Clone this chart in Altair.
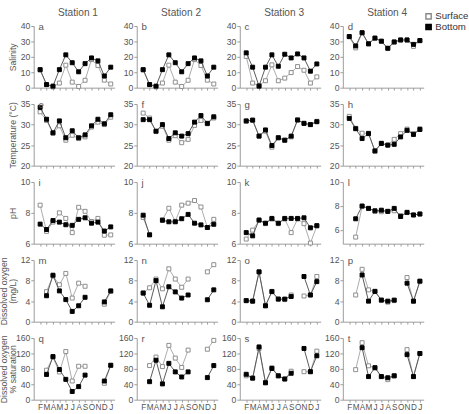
import altair as alt
import pandas as pd

months = ["F", "M", "A", "M", "J", "J", "A", "S", "O", "N", "D", "J"]
stations = ["Station 1", "Station 2", "Station 3", "Station 4"]

# Salinity
a_sur = [11.5, 2.0, 0.5, 3.0, 14.6, 3.6, 0.8, 4.8, 18.2, 14.4, 4.9, 2.4]
a_bot = [11.7, 2.0, 1.0, 11.7, 21.3, 16.2, 10.3, 15.6, 19.3, 17.4, 7.6, 13.3]
b_sur = [11.5, 2.0, 0.5, 3.0, 14.6, 3.6, 0.8, 4.8, 18.2, 14.4, 4.9, 2.4]
b_bot = [11.7, 2.0, 1.0, 11.7, 21.3, 16.2, 10.3, 15.6, 19.3, 17.4, 7.6, 13.3]
c_sur = [20.3, 3.0, 1.4, 4.5, 14.8, 4.5, 6.2, 9.8, 13.7, 11.3, 3.0, 7.0]
c_bot = [22.6, 13.3, 1.0, 13.3, 21.3, 13.9, 21.7, 19.3, 21.9, 19.3, 10.7, 15.4]
d_sur = [33.0, 25.8, 35.5, 28.3, 32.0, 30.0, 25.4, 29.5, 30.8, 30.8, 26.8, 30.4]
d_bot = [33.2, 27.1, 35.7, 28.5, 32.2, 30.2, 25.6, 29.7, 31.0, 31.0, 28.1, 30.6]
# Temperature
e_sur = [33.1, 31.0, 27.9, 29.7, 26.2, 27.4, 26.6, 27.0, 29.4, 30.6, 30.0, 31.8]
e_bot = [34.2, 31.3, 28.0, 30.9, 26.8, 28.5, 26.8, 27.5, 29.7, 31.3, 30.2, 32.4]
f_sur = [32.8, 31.6, 28.3, 29.6, 26.2, 27.3, 25.6, 26.4, 29.8, 31.0, 30.2, 31.6]
f_bot = [31.2, 31.2, 28.4, 30.0, 26.6, 28.0, 27.2, 27.8, 30.6, 32.2, 30.3, 31.9]
g_sur = [30.8, 31.0, 27.2, 28.4, 24.5, 26.8, 26.2, 27.0, 31.2, 30.3, 30.0, 30.8]
g_bot = [30.9, 31.1, 27.2, 28.7, 24.9, 26.8, 26.2, 27.2, 31.1, 30.3, 30.0, 30.7]
h_sur = [32.0, 29.1, 27.9, 27.9, 23.5, 25.5, 25.0, 26.4, 27.8, 28.9, 27.8, 29.0]
h_bot = [31.5, 29.0, 26.6, 27.8, 23.6, 25.4, 25.0, 25.2, 27.0, 28.6, 27.6, 28.8]
# pH
i_sur = [8.5, 6.8, 7.4, 8.0, 7.64, 6.72, 8.36, 8.1, 7.44, 7.64, 6.55, 6.57]
i_bot = [7.27, 6.92, 7.5, 7.4, 7.23, 7.19, 7.58, 7.68, 7.33, 7.4, 6.82, 7.09]
j_sur = [7.7, 6.6, None, 7.55, 8.3, 7.45, 8.5, 8.63, 8.8, 8.38, 7.05, 7.58]
j_bot = [7.85, 6.57, None, 7.52, 7.42, 7.42, 7.62, 7.9, 7.33, 7.22, 7.05, 7.26]
k_sur = [6.3, 6.88, 7.5, 7.3, 7.6, 7.3, 7.6, 6.72, 7.6, 7.3, 6.04, 7.15]
k_bot = [6.72, 6.51, 7.54, 7.33, 7.64, 7.33, 7.64, 7.64, 7.64, 7.68, 7.03, 7.17]
l_sur = [None, 5.4, 7.95, 7.8, 7.55, 7.52, 7.55, 7.6, 7.2, 7.45, 7.25, 7.33]
l_bot = [None, 6.93, 8.0, 7.8, 7.6, 7.65, 7.55, 7.8, 7.12, 7.47, 7.25, 7.33]
# Dissolved oxygen (mg/L)
m_sur = [None, 5.85, 8.9, 7.2, 9.4, 4.6, 7.5, 6.9, None, None, 3.4, 5.9]
m_bot = [None, 5.05, 9.05, 6.0, 4.3, 2.0, 3.1, 4.75, None, None, 3.85, 6.0]
n_sur = [5.6, 6.6, 8.3, 6.4, 10.3, 8.3, 6.7, 8.3, None, None, 9.7, 11.1]
n_bot = [5.57, 3.2, 8.0, 2.9, 6.8, 5.8, 4.6, 5.2, None, None, 4.27, 6.2]
o_sur = [4.1, 4.0, 9.7, 3.1, 5.9, 4.4, 4.3, 5.2, None, 5.0, 5.2, 8.8]
o_bot = [4.1, 4.0, 9.7, 3.1, 5.85, 4.4, 4.4, 4.9, None, 8.8, 5.2, 7.8]
p_sur = [None, 5.2, 10.2, 6.2, 5.9, 4.2, 3.8, 4.1, None, 8.6, 4.0, 7.8]
p_bot = [None, None, 9.1, 4.0, 5.9, 4.2, 4.0, 4.2, None, 7.5, 4.0, 7.9]
# Dissolved oxygen (% saturation)
q_sur = [None, 76.6, 110, 72, 125, 48.5, 86.8, 86.8, None, None, 42.6, 89]
q_bot = [None, 65.5, 112, 78.3, 52.8, 21.3, 34, 63.8, None, None, 48.5, 89.4]
r_sur = [None, 88.6, 110.7, 86, 141, 108, 83.7, 128.8, None, None, 131, 154]
r_bot = [None, 46.8, 102.5, 41, 94.3, 72.2, 59, 72.2, None, None, 57.4, 88.6]
s_sur = [62, 56, 133, 44, 83, 62, 53.7, 74, None, 72.7, 72.7, 126]
s_bot = [66, 56, 137, 44, 81, 62, 53.7, 68.6, None, 133, 72.7, 114]
t_sur = [None, 78, 148, 88, 83, 60, 52, 62, None, 130, 60, 120]
t_bot = [None, None, 135, 60, 83, 60, 57, 62, None, 117, 60, 120]

row_titles = [["Salinity"], ["Temperature (°C)"], ["pH"],
              ["Dissolved oxygen", "(mg/L)"], ["Dissolved oxygen", "% saturation"]]
row_domains = [[0, 40], [20, 35], [6, 10], [0, 12], [0, 160]]
row_ticks = [[0, 10, 20, 30, 40], [20, 25, 30, 35], [6, 8, 10], [0, 4, 8, 12], [0, 40, 80, 120, 160]]
l_domain = [4.85, 10]

panel_data = [
    [("a", a_sur, a_bot), ("b", b_sur, b_bot), ("c", c_sur, c_bot), ("d", d_sur, d_bot)],
    [("e", e_sur, e_bot), ("f", f_sur, f_bot), ("g", g_sur, g_bot), ("h", h_sur, h_bot)],
    [("i", i_sur, i_bot), ("j", j_sur, j_bot), ("k", k_sur, k_bot), ("l", l_sur, l_bot)],
    [("m", m_sur, m_bot), ("n", n_sur, n_bot), ("o", o_sur, o_bot), ("p", p_sur, p_bot)],
    [("q", q_sur, q_bot), ("r", r_sur, r_bot), ("s", s_sur, s_bot), ("t", t_sur, t_bot)],
]

FONT = "Liberation Sans"
TXT = "#555555"
AX = "#999999"
W, H = 84, 64

legend = alt.Legend(orient="none", legendX=405, legendY=-15, title=None,
                    labelFontSize=10, labelColor="#333333", labelFont=FONT,
                    symbolType="square", symbolSize=30, rowPadding=-3, labelOffset=2,
                    padding=0)
series_dom = ["Surface", "Bottom"]
fill_enc = alt.Fill("s:N", scale=alt.Scale(domain=series_dom, range=["white", "black"]), legend=legend)
stroke_enc = alt.Stroke("s:N", scale=alt.Scale(domain=series_dom, range=["#8a8a8a", "black"]), legend=legend)

label_expr = "['F','M','A','M','J','J','A','S','O','N','D','J'][datum.value]"


def make_panel(r, c, letter, sur, bot):
    recs = []
    for name, vals in (("Surface", sur), ("Bottom", bot)):
        seg = 0
        gap = True
        for m, v in enumerate(vals):
            if v is None:
                gap = True
                continue
            if gap:
                seg += 1
                gap = False
            recs.append({"m": m, "v": v, "s": name, "seg": f"{name}{seg}"})
    df = pd.DataFrame(recs)
    dom = l_domain if letter == "l" else row_domains[r]
    xaxis = alt.Axis(values=list(range(12)), labels=(r == 4), labelExpr=label_expr,
                     tickSize=2.5, labelFontSize=8.5, labelPadding=1, labelFlush=False,
                     labelOverlap=False)
    yargs = dict(values=row_ticks[r], tickSize=3, labelFontSize=9, labelPadding=1,
                 minExtent=16, maxExtent=16, titleFontSize=9, titlePadding=1,
                 titleLineHeight=9, titleFontWeight="normal")
    x = alt.X("m:Q", scale=alt.Scale(domain=[-1, 11.6], nice=False, zero=False), axis=xaxis, title=None)
    if c == 0:
        y = alt.Y("v:Q", scale=alt.Scale(domain=dom, nice=False, zero=False),
                  axis=alt.Axis(**yargs), title=row_titles[r])
    else:
        y = alt.Y("v:Q", scale=alt.Scale(domain=dom, nice=False, zero=False),
                  axis=alt.Axis(**yargs), title=None)
    base = alt.Chart(df)
    sur_b = base.transform_filter(alt.datum.s == "Surface")
    bot_b = base.transform_filter(alt.datum.s == "Bottom")
    line_s = sur_b.mark_line(color="#aaaaaa", strokeWidth=1).encode(x=x, y=y, detail="seg:N")
    line_b = bot_b.mark_line(color="#555555", strokeWidth=1).encode(x=x, y=y, detail="seg:N")
    pts_s = sur_b.mark_square(size=17, strokeWidth=1, opacity=1).encode(x=x, y=y, fill=fill_enc, stroke=stroke_enc)
    pts_b = bot_b.mark_square(size=17, strokeWidth=1, opacity=1).encode(x=x, y=y, fill=fill_enc, stroke=stroke_enc)
    lab = alt.Chart(pd.DataFrame({"t": [letter]})).mark_text(
        align="left", baseline="middle", fontSize=10, color=TXT, font=FONT
    ).encode(text="t:N", x=alt.value(5), y=alt.value(1))
    ch = alt.layer(line_s, pts_s, line_b, pts_b, lab).properties(width=W, height=H)
    if r == 0:
        ch = ch.properties(title=alt.TitleParams(stations[c], fontSize=10.5, font=FONT, color=TXT,
                                                 fontWeight="normal", offset=4, dx=4))
    return ch


panels = []
for r in range(5):
    for c in range(4):
        letter, sur, bot = panel_data[r][c]
        panels.append(make_panel(r, c, letter, sur, bot))

chart = alt.concat(*panels, columns=4, spacing={"row": 8, "column": 2},
                   align={"row": "each", "column": "all"}).properties(
    padding={"left": 0, "top": 0, "right": 0, "bottom": 0}
).configure_view(stroke=None).configure_axis(
    grid=False, domainColor=AX, tickColor=AX, labelColor=TXT, titleColor=TXT,
    labelFont=FONT, titleFont=FONT, domainWidth=1
).configure_legend(labelFont=FONT)

chart.save("out.html", embed_options={"renderer": "svg", "actions": False})
